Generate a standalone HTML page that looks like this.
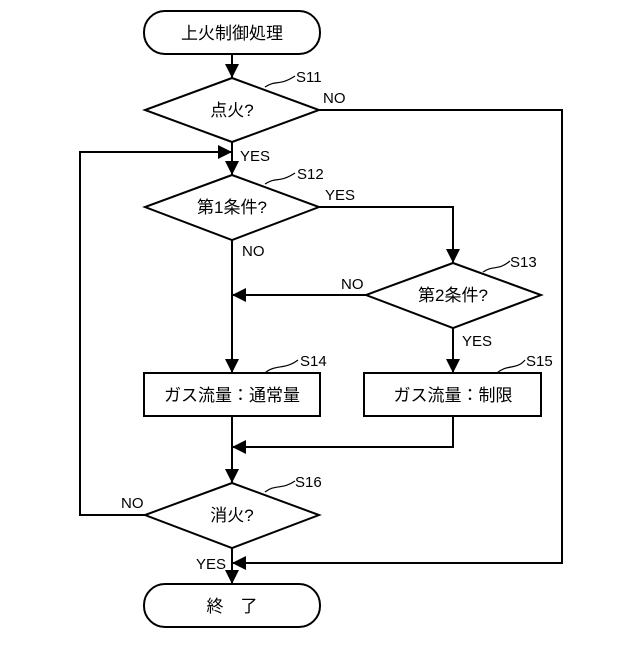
<!DOCTYPE html>
<html><head><meta charset="utf-8"><style>
body{margin:0;background:#fff}
text{font-family:"Liberation Sans","Noto Sans CJK JP",sans-serif;fill:#000}
</style></head><body>
<svg width="640" height="640" viewBox="0 0 640 640" xmlns="http://www.w3.org/2000/svg">
<defs><marker id="a" viewBox="0 0 10 10" refX="10" refY="5" markerWidth="7" markerHeight="7" orient="auto"><path d="M0,0L10,5L0,10z" fill="#000"/></marker></defs>
<g stroke="#000" stroke-width="2" fill="none">
<rect x="144" y="11" width="176" height="43" rx="21"/>
<rect x="144" y="584" width="176" height="43" rx="21"/>
<polygon points="232,78 319,110 232,142 145,110"/>
<polygon points="232,175 319,207 232,240 145,207"/>
<polygon points="453,263 541,295 453,328 366,295"/>
<polygon points="232,483 319,515 232,548 145,515"/>
<rect x="144" y="373" width="176" height="43"/>
<rect x="364" y="373" width="177" height="43"/>
<line x1="232" y1="54" x2="232" y2="78" marker-end="url(#a)"/>
<line x1="232" y1="142" x2="232" y2="175" marker-end="url(#a)"/>
<polyline points="145,515 80,515 80,152 232,152" marker-end="url(#a)"/>
<polyline points="319,207 453,207 453,263" marker-end="url(#a)"/>
<line x1="232" y1="240" x2="232" y2="373" marker-end="url(#a)"/>
<line x1="366" y1="295" x2="232" y2="295" marker-end="url(#a)"/>
<line x1="453" y1="328" x2="453" y2="373" marker-end="url(#a)"/>
<line x1="232" y1="416" x2="232" y2="483" marker-end="url(#a)"/>
<polyline points="453,416 453,447 232,447" marker-end="url(#a)"/>
<polyline points="319,110 562,110 562,563 232,563" marker-end="url(#a)"/>
<line x1="232" y1="548" x2="232" y2="584" marker-end="url(#a)"/>
<g stroke-width="1.2">
<path d="M265,87 C275,80 280,86 295,76"/>
<path d="M265,184 C275,177 280,183 295,173"/>
<path d="M483,272 C493,265 498,271 510,261"/>
<path d="M265,373 C275,364 285,370 298,360"/>
<path d="M497,373 C507,364 517,370 525,360"/>
<path d="M265,492 C275,484 282,490 295,481"/>
</g>
</g>
<g font-size="17" text-anchor="middle">
<text x="232" y="39">上火制御処理</text>
<text x="232" y="116">点火?</text>
<text x="232" y="213">第1条件?</text>
<text x="453" y="301">第2条件?</text>
<text x="232" y="401">ガス流量：通常量</text>
<text x="453" y="401">ガス流量：制限</text>
<text x="232" y="521">消火?</text>
<text x="232" y="612">終　了</text>
</g>
<g font-size="15">
<text x="296" y="82">S11</text>
<text x="323" y="103">NO</text>
<text x="240" y="161">YES</text>
<text x="297" y="179">S12</text>
<text x="325" y="200">YES</text>
<text x="242" y="256">NO</text>
<text x="510" y="267">S13</text>
<text x="341" y="289">NO</text>
<text x="462" y="346">YES</text>
<text x="300" y="366">S14</text>
<text x="526" y="366">S15</text>
<text x="295" y="487">S16</text>
<text x="121" y="508">NO</text>
<text x="196" y="569">YES</text>
</g>
</svg>
</body></html>
